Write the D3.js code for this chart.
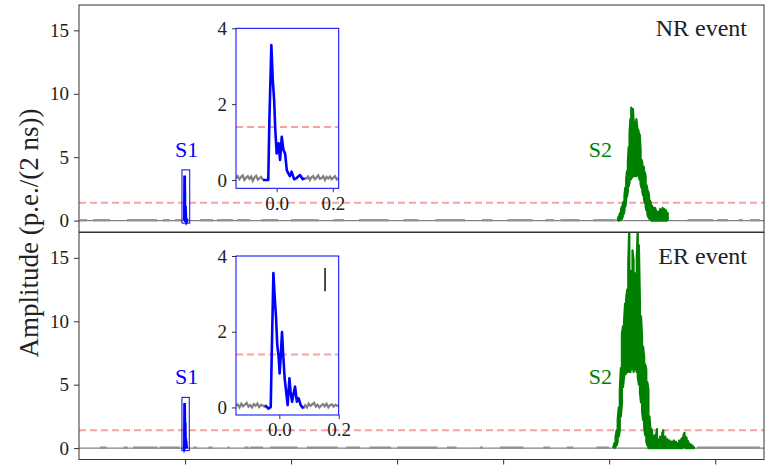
<!DOCTYPE html>
<html>
<head>
<meta charset="utf-8">
<script src="https://cdn.jsdelivr.net/npm/d3@7"></script>
</head>
<body style="margin:0;background:#fff">
<script>
var w = 765;
var h = 468;
var font = "Liberation Serif";

//axis ticks
var xTicks = [0, 5, 10, 15, 20, 25];
var yTicks = [0, 5, 10, 15];
var insetYTicks = [0, 2, 4];
var insetXTicks = [0.0, 0.2];
var threshold = 1.4;
var eventNames = ["NR event", "ER event"];

//S1 pulse (time in us, amplitude in p.e./2ns)
var s1NrT = [-0.049, -0.03, -0.026, -0.019, -0.014, -0.009, -0.005, 0, 0.007, 0.012, 0.018, 0.024, 0.03, 0.036, 0.041, 0.047, 0.053, 0.062, 0.071, 0.083, 0.093, 0.1];
var s1NrV = [0.0, 0.0, 1.58, 3.56, 2.64, 2.1, 1.32, 0.7, 0.97, 0.53, 1.14, 0.79, 0.7, 0.26, 0.18, 0.1, 0.22, 0.02, 0.05, 0.13, 0.02, 0.05];
var s1ErT = [-0.048, -0.037, -0.029, -0.025, -0.02, -0.016, -0.011, -0.007, -0.002, 0.001, 0.005, 0.009, 0.013, 0.018, 0.023, 0.028, 0.034, 0.038, 0.043, 0.047, 0.053, 0.059, 0.065, 0.072, 0.081];
var s1ErV = [0.06, -0.03, 0.01, 1.65, 3.55, 2.97, 2.36, 1.65, 1.3, 0.9, 1.39, 1.99, 1.39, 0.77, 0.41, 0.06, 0.77, 0.41, 0.15, 0.33, 0.55, 0.15, 0.24, 0.06, -0.03];

//baseline around S1 (0.006 us samples)
var nrPreS1 = [0.05, 0.1, 0.02, 0.08, 0.12, 0.0, 0.06, 0.1, 0.03, 0.09, -0.02, 0.07, 0.11, 0.01, 0.05, 0.08, 0.0];
var nrPostS1 = [0.04, 0.09, 0.0, 0.07, 0.1, 0.02, 0.06, 0.12, 0.03, 0.05, 0.1, 0.0, 0.08, 0.04, 0.09, 0.02, 0.06, 0.1, 0.01, 0.05];
var erPreS1 = [0.04, 0.08, 0.0, 0.1, 0.03, 0.07, 0.12, 0.02, 0.06, 0.0, 0.09, 0.04, 0.1, 0.01, 0.07, 0.05, 0.02];
var erPostS1 = [0.06, 0.0, 0.1, 0.04, 0.08, 0.12, 0.02, 0.07, 0.0, 0.05, 0.09, 0.03, 0.1, 0.0, 0.06, 0.08, 0.02, 0.07, 0.04, 0.06];

//S2 min/max per bin
var s2NrStart = 20.40, s2NrStep = 0.04;
var s2NrHi = [0.05, 0.3, 0.45, 0.6, 0.9, 1.1, 1.3, 1.5, 2.0, 2.6, 3.2, 3.9, 4.6, 5.8, 6.9, 8.0, 8.9, 8.4, 8.8, 7.6, 7.8, 7.0, 8.0, 7.4, 7.2, 6.9, 6.8, 5.6, 4.8, 4.6, 4.3, 4.2, 3.8, 3.5, 2.8, 2.5, 2.3, 2.0, 1.6, 1.4, 1.2, 1.1, 1.0, 0.9, 1.0, 0.8, 0.7, 0.6, 0.7, 0.5, 0.9, 0.4, 0.8, 1.0, 0.3, 0.9, 0.2, 0.8, 0.1, 0.6];
var s2NrLo = [0, 0, 0, 0.05, 0.1, 0.15, 0.3, 0.5, 0.8, 1.1, 1.5, 1.9, 2.3, 2.7, 3.0, 3.2, 3.3, 3.4, 3.5, 3.5, 3.6, 3.5, 3.5, 3.6, 3.6, 3.4, 3.2, 2.9, 2.6, 2.3, 2.0, 1.7, 1.4, 1.1, 0.8, 0.5, 0.3, 0.2, 0.1, 0.05, 0, 0, 0, 0, 0, 0, 0, 0, 0, 0, 0, 0, 0, 0, 0, 0, 0, 0, 0, 0];
var s2ErStart = 20.20, s2ErStep = 0.05;
var s2ErHi = [0.1, 0.4, 0.9, 1.4, 2.2, 3.2, 4.6, 6.3, 9.0, 9.6, 10.0, 11.4, 11.8, 12.5, 14.6, 17.5, 14.0, 13.5, 15.6, 14.8, 13.8, 12.7, 15.0, 17.5, 16.0, 11.5, 10.4, 8.8, 8.0, 7.2, 6.6, 6.2, 5.2, 4.6, 2.5, 1.4, 1.5, 0.9, 0.7, 1.0, 0.8, 1.5, 0.6, 0.7, 0.9, 0.5, 1.2, 1.4, 0.6, 0.9, 0.4, 0.7, 0.5, 0.6, 0.3, 0.5, 0.4, 0.6, 0.3, 0.5, 0.4, 0.3, 0.6, 0.5, 0.7, 0.8, 1.0, 1.2, 0.9, 0.8, 0.6, 0.4, 0.3, 0.3, 0.2, 0.15, 0.1];
var s2ErLo = [0, 0, 0.1, 0.2, 0.5, 0.9, 1.4, 2.5, 3.5, 4.8, 5.6, 5.8, 5.9, 6.0, 6.0, 6.2, 6.0, 6.2, 6.4, 6.0, 6.3, 6.5, 6.0, 5.6, 5.0, 4.4, 3.6, 2.9, 2.2, 1.6, 1.0, 0.5, 0.2, 0, 0, 0, 0, 0, 0, 0, 0, 0, 0, 0, 0, 0, 0, 0, 0, 0, 0, 0, 0, 0, 0, 0, 0, 0, 0, 0, 0, 0, 0, 0, 0, 0, 0.1, 0.1, 0, 0, 0, 0, 0, 0, 0, 0, 0];

//noisy stretches of the grey baseline (start/end, us)
var nrNoiseA = [-4.95, -4.34, -2.74, -1.04, -0.47, 0.71, 1.51, 2.45, 3.6, 5.0, 7.0, 8.2, 10.3, 11.8, 14.0, 15.2, 17.0, 17.7, 19.25, 23.7, 25.1, 26.1, 26.65];
var nrNoiseB = [-4.62, -3.54, -1.32, -0.71, -0.14, 1.32, 2.26, 3.07, 4.4, 6.3, 7.5, 9.6, 11.0, 13.2, 14.5, 16.4, 17.4, 18.6, 20.3, 24.9, 25.6, 26.3, 27.1];
var erNoiseA = [-4.0, -2.9, -2.45, -1.2, 0.4, 1.1, 2.0, 2.8, 3.07, 4.0, 5.75, 7.6, 8.7, 10.0, 12.35, 13.9, 14.85, 16.9, 18.0, 19.4, 24.15, 25.1];
var erNoiseB = [-3.7, -2.7, -1.3, -0.25, 0.55, 1.3, 2.1, 3.0, 3.68, 5.3, 7.2, 8.25, 9.7, 11.9, 12.8, 14.05, 15.95, 17.2, 18.3, 20.0, 25.1, 27.1];

//main time scale, shared by both panels
var x = d3.scaleLinear().domain([-5, 27.3]).range([79, 764]);

var svg = d3.select("body")
            .append("svg")
            .attr("width", w)
            .attr("height", h)
            .attr("font-family", font);

var panels = [
  {name: eventNames[0], top: 5, bottom: 232, s1T: s1NrT, s1V: s1NrV, pre: nrPreS1, post: nrPostS1,
   s2Start: s2NrStart, s2Step: s2NrStep, s2Hi: s2NrHi, s2Lo: s2NrLo, noiseA: nrNoiseA, noiseB: nrNoiseB,
   inset: {x0: 236, x1: 338.7, y0: 28.3, y1: 188.3, t0: -0.145, t1: 0.221, v0: -0.22}},
  {name: eventNames[1], top: 232.5, bottom: 459.5, s1T: s1ErT, s1V: s1ErV, pre: erPreS1, post: erPostS1,
   s2Start: s2ErStart, s2Step: s2ErStep, s2Hi: s2ErHi, s2Lo: s2ErLo, noiseA: erNoiseA, noiseB: erNoiseB,
   inset: {x0: 236, x1: 338.7, y0: 256, y1: 415, t0: -0.146, t1: 0.2, v0: -0.2}, mark: [0.154, 3.07, 3.68]}
];

var grey = "#808080";
var red = "#f7a3a3";

function styleText(sel, size, color) {
  return sel.attr("font-family", font)
            .attr("font-size", size)
            .attr("fill", color);
}

panels.forEach(function(p, k) {
  var y = d3.scaleLinear().domain([-0.9, 17]).range([p.bottom, p.top]);
  var g = svg.append("g");

  g.append("clipPath").attr("id", "clip" + k)
   .append("rect").attr("x", 79).attr("y", p.top).attr("width", 685).attr("height", p.bottom - p.top);

  var plot = g.append("g").attr("clip-path", "url(#clip" + k + ")");

  //baseline
  plot.append("line")
      .attr("x1", 79).attr("x2", 764)
      .attr("y1", y(0)).attr("y2", y(0))
      .style("stroke", grey).style("stroke-width", 1.3);

  plot.selectAll("line.noise")
      .data(p.noiseA)
      .enter()
      .append("line")
      .attr("class", "noise")
      .attr("x1", function(d) { return x(d); })
      .attr("x2", function(d, i) { return x(p.noiseB[i]); })
      .attr("y1", y(0.03)).attr("y2", y(0.03))
      .style("stroke", "#909090").style("stroke-width", 2.2);

  //threshold
  plot.append("line")
      .attr("x1", 79).attr("x2", 764)
      .attr("y1", y(threshold)).attr("y2", y(threshold))
      .style("stroke", red).style("stroke-width", 2)
      .style("stroke-dasharray", "7,4");

  //S1 in main panel
  var s1 = p.s1T.map(function(t, i) { return [t, p.s1V[i]]; });
  plot.append("path")
      .datum(s1)
      .attr("d", d3.line().x(function(d) { return x(d[0]); }).y(function(d) { return y(d[1]); }))
      .style("fill", "none").style("stroke", "blue").style("stroke-width", 2.8);

  plot.append("rect")
      .attr("x", x(p.inset.t0)).attr("y", y(4))
      .attr("width", x(p.inset.t1) - x(p.inset.t0))
      .attr("height", y(-0.2) - y(4))
      .style("fill", "none").style("stroke", "blue").style("stroke-width", 1);

  //S2 as min/max zigzag
  var s2 = [];
  p.s2Hi.forEach(function(v, i) {
    var t = p.s2Start + i * p.s2Step;
    if (i % 2 == 0) { s2.push([t, p.s2Lo[i]]); s2.push([t, v]); }
    else { s2.push([t, v]); s2.push([t, p.s2Lo[i]]); }
  });
  plot.append("path")
      .datum(s2)
      .attr("d", d3.line().x(function(d) { return x(d[0]); }).y(function(d) { return y(d[1]); }))
      .style("fill", "none").style("stroke", "green").style("stroke-width", 2.2)
      .style("stroke-linejoin", "round");

  //frame
  g.append("rect")
   .attr("x", 79).attr("y", p.top).attr("width", 685).attr("height", p.bottom - p.top)
   .style("fill", "none").style("stroke", "#333").style("stroke-width", 1);

  //y axis
  var ay = g.append("g")
            .attr("transform", "translate(79,0)")
            .call(d3.axisLeft(y).tickValues(yTicks).tickSize(5).tickPadding(5));
  ay.select(".domain").remove();
  ay.attr("font-family", font).attr("font-size", 19);
  ay.selectAll("line").style("stroke", "#333");
  styleText(ay.selectAll("text"), 19, "#222");

  if (k == 1) {
    var ax = g.append("g")
              .attr("transform", "translate(0," + p.bottom + ")")
              .call(d3.axisBottom(x).tickValues(xTicks).tickSize(5).tickFormat(""));
    ax.select(".domain").remove();
    ax.selectAll("line").style("stroke", "#333");
  }

  //labels
  styleText(g.append("text"), 24, "#222")
   .attr("x", 747).attr("y", p.top + 31)
   .attr("text-anchor", "end")
   .text(p.name);

  styleText(g.append("text"), 22, "blue")
   .attr("x", x(0) + 1.5).attr("y", y(4) - 13)
   .attr("text-anchor", "middle")
   .text("S1");

  styleText(g.append("text"), 22, "green")
   .attr("x", 612).attr("y", y(4) - 13)
   .attr("text-anchor", "end")
   .text("S2");

  //inset
  var ins = p.inset;
  var ix = d3.scaleLinear().domain([ins.t0, ins.t1]).range([ins.x0, ins.x1]);
  var iy = d3.scaleLinear().domain([ins.v0, 4]).range([ins.y1, ins.y0]);
  var gi = g.append("g");

  gi.append("rect")
    .attr("x", ins.x0).attr("y", ins.y0).attr("width", ins.x1 - ins.x0).attr("height", ins.y1 - ins.y0)
    .style("fill", "#fff");

  gi.append("clipPath").attr("id", "iclip" + k)
    .append("rect").attr("x", ins.x0).attr("y", ins.y0).attr("width", ins.x1 - ins.x0).attr("height", ins.y1 - ins.y0);

  var ip = gi.append("g").attr("clip-path", "url(#iclip" + k + ")");
  var iline = d3.line().x(function(d) { return ix(d[0]); }).y(function(d) { return iy(d[1]); });

  ip.append("line")
    .attr("x1", ins.x0).attr("x2", ins.x1)
    .attr("y1", iy(threshold)).attr("y2", iy(threshold))
    .style("stroke", red).style("stroke-width", 2)
    .style("stroke-dasharray", "7,4");

  var pre = p.pre.map(function(v, i) { return [ins.t0 + i * 0.006, v]; });
  pre.push(s1[0]);
  var lastT = s1[s1.length - 1][0];
  var post = [s1[s1.length - 1]].concat(p.post.map(function(v, i) { return [lastT + (i + 1) * 0.006, v]; }));

  ip.selectAll("path.grey")
    .data([pre, post])
    .enter()
    .append("path")
    .attr("class", "grey")
    .attr("d", iline)
    .style("fill", "none").style("stroke", grey).style("stroke-width", 2.2);

  ip.append("path")
    .datum(s1)
    .attr("d", iline)
    .style("fill", "none").style("stroke", "blue").style("stroke-width", 2.6)
    .style("stroke-linejoin", "round");

  if (p.mark) {
    gi.append("line")
      .attr("x1", ix(p.mark[0])).attr("x2", ix(p.mark[0]))
      .attr("y1", iy(p.mark[1])).attr("y2", iy(p.mark[2]))
      .style("stroke", "#111").style("stroke-width", 1.5);
  }

  gi.append("rect")
    .attr("x", ins.x0).attr("y", ins.y0).attr("width", ins.x1 - ins.x0).attr("height", ins.y1 - ins.y0)
    .style("fill", "none").style("stroke", "blue").style("stroke-width", 1);

  var iay = gi.append("g")
              .attr("transform", "translate(" + ins.x0 + ",0)")
              .call(d3.axisLeft(iy).tickValues(insetYTicks).tickSize(4).tickPadding(5).tickFormat(d3.format("d")));
  iay.select(".domain").remove();
  iay.attr("font-family", font).attr("font-size", 19);
  iay.selectAll("line").style("stroke", "#333");
  styleText(iay.selectAll("text"), 19, "#222");

  var iax = gi.append("g")
              .attr("transform", "translate(0," + ins.y1 + ")")
              .call(d3.axisBottom(ix).tickValues(insetXTicks).tickSize(4).tickPadding(4).tickFormat(d3.format(".1f")));
  iax.select(".domain").remove();
  iax.attr("font-family", font).attr("font-size", 19);
  iax.selectAll("line").style("stroke", "#333");
  styleText(iax.selectAll("text"), 19, "#222");
});

//shared y label
styleText(svg.append("text"), 27, "#222")
   .attr("transform", "translate(38,233) rotate(-90)")
   .attr("text-anchor", "middle")
   .text("Amplitude (p.e./(2 ns))");
</script>
</body>
</html>
